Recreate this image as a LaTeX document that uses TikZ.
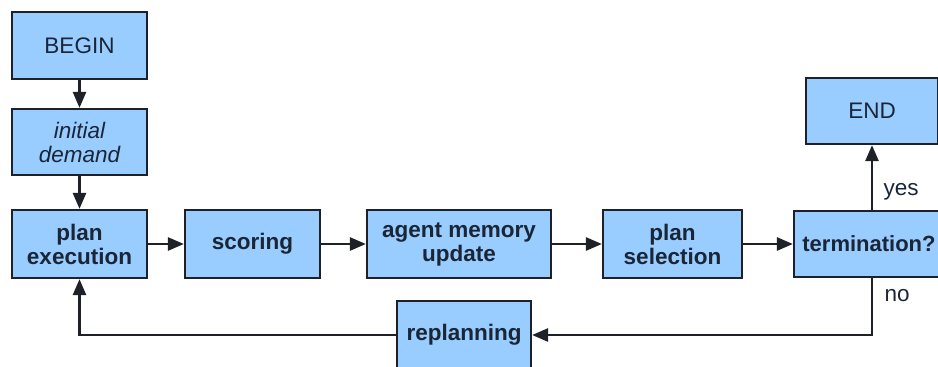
\documentclass[tikz,border=0pt]{standalone}
\usepackage{fontspec}
\setmainfont{Liberation Sans}
\usetikzlibrary{arrows.meta,calc}
\definecolor{boxfill}{HTML}{99CCFF}
\definecolor{boxline}{HTML}{1E2228}
\definecolor{ink}{HTML}{1A2636}
\tikzset{
  flowbox/.style={draw=boxline, fill=boxfill, line width=2.2pt, align=center,
    inner sep=0pt, text=ink, font=\fontsize{22.5}{24}\selectfont},
  boldbox/.style={flowbox, font=\fontsize{22.5}{24}\selectfont\bfseries},
  flow/.style={line width=2.6pt, draw=boxline, -{Triangle[length=16pt,width=13pt]}},
  branch/.style={text=ink, font=\fontsize{22.5}{24}\selectfont, anchor=west}
}
\begin{document}
\begin{tikzpicture}[x=1pt,y=-1pt]
  \useasboundingbox (0,0) rectangle (938,367);
  \clip (0,0) rectangle (938,367);

  % boxes
  \node[flowbox, minimum width=135pt, minimum height=67pt] (begin) at (79.5,45.5) {BEGIN};
  \node[flowbox, minimum width=135pt, minimum height=66pt] (init) at (79.5,142) {\itshape initial\\\itshape demand};
  \node[boldbox, minimum width=135pt, minimum height=68pt] (exec) at (79.5,244) {plan\\execution};
  \node[boldbox, minimum width=135pt, minimum height=68pt] (score) at (252.5,244) {scoring};
  \node[boldbox, minimum width=184pt, minimum height=68pt] (mem) at (459,244) {agent memory\\update};
  \node[boldbox, minimum width=139pt, minimum height=68pt] (sel) at (672.5,244) {plan\\selection};
  \node[boldbox, minimum width=156pt, minimum height=66pt,
        font=\fontsize{22}{24}\selectfont\bfseries] (term) at (872,244) {termination?\hspace*{6pt}};
  \node[flowbox, minimum width=132pt, minimum height=66pt] (end) at (872,111) {END};
  \node[boldbox, minimum width=134pt, minimum height=68pt] (rep) at (464,335) {replanning};

  % main sequence
  \draw[flow] (begin) -- (init);
  \draw[flow] (init) -- (exec);
  \draw[flow] (exec) -- (score);
  \draw[flow] (score) -- (mem);
  \draw[flow] (mem) -- (sel);
  \draw[flow] (sel) -- (term);

  % decision branches
  \draw[flow] (term) -- (end);
  \node[branch] (yes) at (880,192) {yes};
  \draw[flow] (term.south) |- (rep.east);
  \node[branch] (no) at (881,296) {no};
  \draw[flow] (rep.west) -| (exec.south);
\end{tikzpicture}
\end{document}
